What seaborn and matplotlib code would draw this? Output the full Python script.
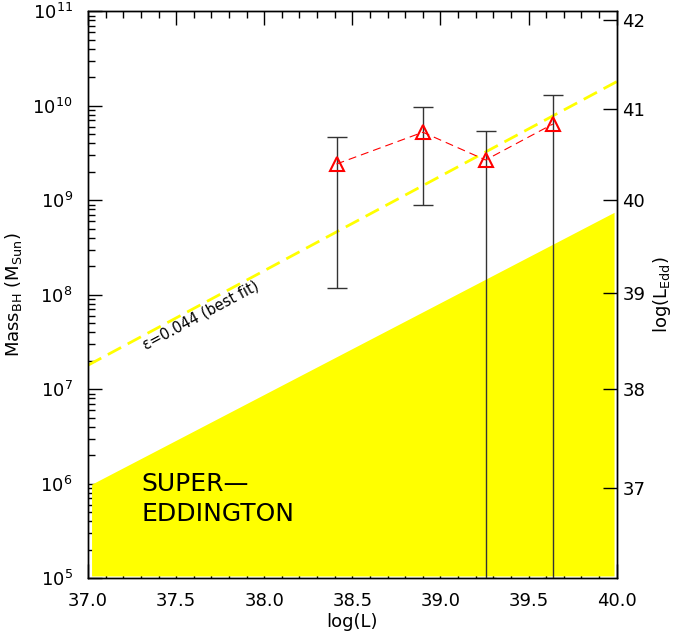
import matplotlib
matplotlib.use('Agg')
import matplotlib.pyplot as plt
import seaborn as sns
import numpy as np
import pandas as pd
from matplotlib.ticker import FixedLocator, NullLocator, FuncFormatter, MultipleLocator, LogLocator

# data
log_l = [38.41, 38.90, 39.256, 39.638]
mass_bh = [2.42e9, 5.25e9, 2.67e9, 6.41e9]
mass_hi = [4.71e9, 9.7e9, 5.4e9, 1.3e10]
mass_lo = [1.18e8, 8.98e8, 1e5, 1e5]

fit_x = [37.0, 40.0]
fit_mass = [1.8e7, 1.8e10]

edd_x = [37.02, 39.985]
edd_top = [9.9e5, 7.46e8]
edd_bottom = 1.06e5

ledd_ticks = [37, 38, 39, 40, 41, 42]

sns.set_style('ticks')
plt.rcParams['font.family'] = ['DejaVu Sans']
plt.rcParams['mathtext.default'] = 'regular'
for key in ('text.color', 'axes.labelcolor', 'xtick.color', 'ytick.color'):
    plt.rcParams[key] = 'black'

fig = plt.figure(figsize=(6.74, 6.37), dpi=100)
ax = fig.add_axes([0.1306, 0.0921, 0.915 - 0.1306, 0.9823 - 0.0921])

# super-Eddington region
ax.fill_between(edd_x, [edd_bottom] * 2, edd_top, color='#ffff00', lw=0, zorder=1)
ax.text(37.305, 10 ** 5.92, 'SUPER\u2014', fontsize=18, ha='left', va='baseline')
ax.text(37.305, 10 ** 5.61, 'EDDINGTON', fontsize=18, ha='left', va='baseline')

# best fit line
df_fit = pd.DataFrame({'x': fit_x, 'y': fit_mass})
sns.lineplot(data=df_fit, x='x', y='y', color='#ffff00', lw=2.0, ax=ax, zorder=2)
ax.lines[-1].set_dashes((5.4, 2.7))
ax.text(37.64, 10 ** 7.78, '\u03b5=0.044 (best fit)', fontsize=10.5, rotation=28.2,
        ha='center', va='center', rotation_mode='anchor')

# measurements
m = np.array(mass_bh)
yerr = [m - np.array(mass_lo), np.array(mass_hi) - m]
ax.errorbar(log_l, mass_bh, yerr=yerr, fmt='none', ecolor='#333333', elinewidth=1.0,
            capsize=7.5, capthick=1.0, zorder=3)
df_pts = pd.DataFrame({'x': log_l, 'y': mass_bh})
sns.lineplot(data=df_pts, x='x', y='y', color='red', lw=0.8, ax=ax, zorder=4,
             marker='^', markersize=10, markerfacecolor='none', markeredgecolor='red',
             markeredgewidth=1.5)
ax.lines[-1].set_dashes((7.2, 4.5))

ax.set_yscale('log')
ax.set_xlim(37.0, 40.0)
ax.set_ylim(1e5, 1e11)
ax.xaxis.set_major_locator(MultipleLocator(0.5))
ax.xaxis.set_minor_locator(MultipleLocator(0.1))
ax.xaxis.set_major_formatter(FuncFormatter(lambda v, p: f'{v:.1f}'))
ax.yaxis.set_minor_locator(LogLocator(base=10, subs=np.arange(2, 10), numticks=20))
ax.yaxis.set_minor_formatter(FuncFormatter(lambda v, p: ''))
ax.tick_params(axis='x', which='both', direction='in', top=True, labelsize=13, pad=10)
ax.tick_params(axis='y', which='both', direction='in', right=False, labelsize=13, pad=11)
ax.tick_params(which='major', length=10, width=1)
ax.tick_params(which='minor', length=5, width=1)
ax.set_xlabel('log(L)', fontsize=13, labelpad=2)
ax.set_ylabel('Mass$_{BH}$ (M$_{Sun}$)', fontsize=13, labelpad=6)

ax2 = ax.twinx()
ax2.set_yscale('log')
ax2.set_ylim(36.1, 42.1)
ax2.yaxis.set_major_locator(FixedLocator(ledd_ticks))
ax2.yaxis.set_minor_locator(NullLocator())
ax2.yaxis.set_major_formatter(FuncFormatter(lambda v, p: f'{v:.0f}'))
ax2.tick_params(axis='y', which='major', direction='in', length=10, width=1,
                labelsize=13, pad=4)
ax2.set_ylabel('log(L$_{Edd}$)', fontsize=13, labelpad=4)

for a in (ax, ax2):
    for s in a.spines.values():
        s.set_color('black')
        s.set_linewidth(1.0)

fig.savefig('out.png', dpi=100)
